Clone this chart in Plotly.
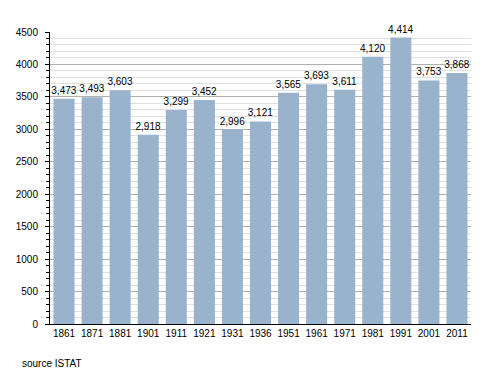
import plotly.graph_objects as go

years = ["1861", "1871", "1881", "1901", "1911", "1921", "1931", "1936", "1951",
         "1961", "1971", "1981", "1991", "2001", "2011"]
population = [3473, 3493, 3603, 2918, 3299, 3452, 2996, 3121, 3565,
              3693, 3611, 4120, 4414, 3753, 3868]

fig = go.Figure()
fig.add_trace(go.Bar(
    x=years, y=population,
    marker=dict(color="#99b3cc", line=dict(width=0)),
    text=[f"{v:,}" for v in population],
    textposition="outside",
    constraintext="none",
    textfont=dict(family="Liberation Sans, Arial", size=10, color="#000000"),
    cliponaxis=False,
    hoverinfo="skip",
))

fig.update_layout(
    width=500, height=373,
    margin=dict(l=50, r=29, t=32, b=49),
    paper_bgcolor="white", plot_bgcolor="white",
    bargap=0.25,
    showlegend=False,
    font=dict(family="Liberation Sans, Arial", size=10, color="#000000"),
    xaxis=dict(
        type="category",
        showline=True, linecolor="#000000", linewidth=1,
        ticks="", showgrid=False,
        tickfont=dict(size=10),
    ),
    yaxis=dict(
        range=[0, 4500],
        dtick=500,
        showline=True, linecolor="#000000", linewidth=1,
        ticks="outside", ticklen=4, tickcolor="#000000",
        ticklabelstandoff=5,
        showgrid=True, gridcolor="#b0b0b0", gridwidth=1,
        zeroline=False,
        tickfont=dict(size=10),
        minor=dict(dtick=100, showgrid=True, gridcolor="#e0e0e0",
                   ticks="outside", ticklen=3, tickcolor="#000000"),
    ),
    annotations=[dict(
        text="source ISTAT", xref="paper", yref="paper",
        x=-0.071, y=-0.135, xanchor="left", yanchor="middle",
        showarrow=False, font=dict(size=10),
    )],
)

fig.write_html("out.html", config={"displayModeBar": False},
               post_script="document.body.style.margin='0';")
